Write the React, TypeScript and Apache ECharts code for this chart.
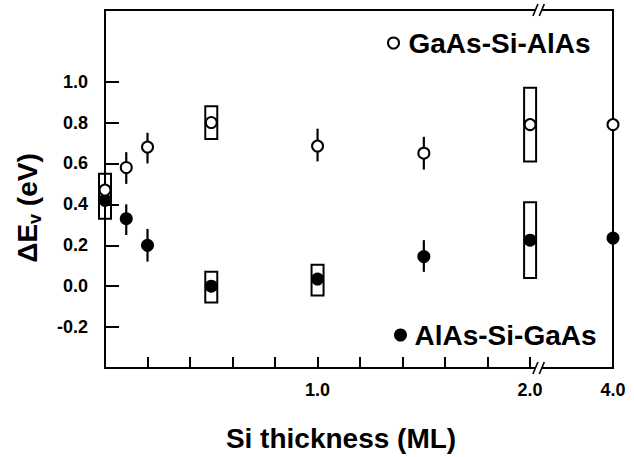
import React, { useEffect, useRef } from "react";
import * as echarts from "echarts";

// ---- data ----
const thickness = [0, 0.1, 0.2, 0.5, 1.0, 1.5, 2.0, 4.0];
const gaAsSiAlAs = [0.47, 0.58, 0.68, 0.8, 0.685, 0.65, 0.79, 0.79];
const alAsSiGaAs = [0.42, 0.33, 0.2, 0.0, 0.035, 0.145, 0.225, 0.235];

const openErrX = [0.1, 0.2, 1.0, 1.5];
const openErrLow = [0.5, 0.6, 0.61, 0.57];
const openErrHigh = [0.655, 0.75, 0.77, 0.73];

const filledErrX = [0.1, 0.2, 1.5];
const filledErrLow = [0.25, 0.12, 0.07];
const filledErrHigh = [0.4, 0.28, 0.225];

const boxX = [0, 0.5, 2.0, 0.5, 1.0, 2.0];
const boxLow = [0.33, 0.72, 0.61, -0.08, -0.045, 0.04];
const boxHigh = [0.55, 0.88, 0.97, 0.07, 0.105, 0.41];

const xMinorTicks = [0.2, 0.4, 0.6, 0.8, 1.0, 1.2, 1.4, 1.6, 1.8, 2.0];
const xTickLabels = [1.0, 2.0, 4.0];
const yTicks = [-0.2, 0, 0.2, 0.4, 0.6, 0.8, 1.0];

// axis position where the broken-axis value 4.0 ML is drawn
const BREAK_POS = 2.39;
const xPos = (t: number) => (t > 2.0 ? BREAK_POS : t);

const FONT = "'Liberation Sans', Arial, Helvetica, sans-serif";

export default function App() {
  const ref = useRef<HTMLDivElement>(null);

  useEffect(() => {
    if (!ref.current) return;
    const chart = echarts.init(ref.current, null, { renderer: "svg" });

    const boxData = boxX.map((x, i) => [xPos(x), boxLow[i], boxHigh[i]]);
    const errData = [
      ...openErrX.map((x, i) => [xPos(x), openErrLow[i], openErrHigh[i]]),
      ...filledErrX.map((x, i) => [xPos(x), filledErrLow[i], filledErrHigh[i]]),
    ];

    const option: any = {
      animation: false,
      backgroundColor: "#fff",
      grid: {
        left: 105,
        right: 21,
        top: 10,
        bottom: 86,
        show: true,
        borderColor: "#000",
        borderWidth: 2,
        containLabel: false,
      },
      legend: [
        {
          data: ["GaAs-Si-AlAs"],
          left: 382,
          top: 24,
          itemWidth: 20,
          itemHeight: 11,
          symbolKeepAspect: true,
          textStyle: { fontSize: 28, fontWeight: "bold", color: "#000", fontFamily: FONT },
        },
        {
          data: ["AlAs-Si-GaAs"],
          left: 389,
          top: 316,
          itemWidth: 18,
          itemHeight: 13,
          symbolKeepAspect: true,
          textStyle: { fontSize: 28, fontWeight: "bold", color: "#000", fontFamily: FONT },
        },
      ],
      xAxis: {
        type: "value",
        min: 0,
        max: BREAK_POS,
        splitLine: { show: false },
        axisLine: { show: true, onZero: false, lineStyle: { color: "#000", width: 2 } },
        axisTick: {
          show: true,
          inside: true,
          length: 11,
          lineStyle: { color: "#000", width: 2 },
          customValues: xMinorTicks,
        },
        axisLabel: {
          customValues: xTickLabels.map(xPos),
          formatter: (v: number) => {
            const idx = xTickLabels.map(xPos).findIndex((p) => Math.abs(p - v) < 1e-6);
            return idx >= 0 ? xTickLabels[idx].toFixed(1) : "";
          },
          margin: 13,
          fontSize: 18,
          fontWeight: "bold",
          color: "#000",
          fontFamily: FONT,
        },
        name: "Si thickness (ML)",
        nameLocation: "middle",
        nameGap: 56,
        nameTextStyle: {
          fontSize: 28,
          fontWeight: "bold",
          color: "#000",
          fontFamily: FONT,
          padding: [0, 36, 0, 0],
        },
      },
      yAxis: {
        type: "value",
        min: -0.4,
        max: 1.35,
        splitLine: { show: false },
        axisLine: { show: true, onZero: false, lineStyle: { color: "#000", width: 2 } },
        axisTick: {
          show: true,
          inside: true,
          length: 14,
          lineStyle: { color: "#000", width: 2 },
          customValues: yTicks,
        },
        axisLabel: {
          customValues: yTicks,
          formatter: (v: number) => v.toFixed(1),
          margin: 17,
          fontSize: 18,
          fontWeight: "bold",
          color: "#000",
          fontFamily: FONT,
        },
      },
      series: [
        {
          type: "custom",
          name: "boxes",
          z: 2,
          silent: true,
          data: boxData,
          encode: { x: 0, y: [1, 2] },
          renderItem: (params: any, api: any) => {
            const x = api.value(0);
            const top = api.coord([x, api.value(2)]);
            const bot = api.coord([x, api.value(1)]);
            return {
              type: "rect",
              shape: { x: top[0] - 6, y: top[1], width: 12, height: bot[1] - top[1] },
              style: { fill: "rgba(0,0,0,0)", stroke: "#000", lineWidth: 2 },
            };
          },
        },
        {
          type: "custom",
          name: "errors",
          z: 2,
          silent: true,
          data: errData,
          encode: { x: 0, y: [1, 2] },
          renderItem: (params: any, api: any) => {
            const x = api.value(0);
            const top = api.coord([x, api.value(2)]);
            const bot = api.coord([x, api.value(1)]);
            return {
              type: "line",
              shape: { x1: top[0], y1: top[1], x2: bot[0], y2: bot[1] },
              style: { stroke: "#000", lineWidth: 2.2 },
            };
          },
        },
        {
          type: "scatter",
          name: "GaAs-Si-AlAs",
          z: 4,
          symbol: "circle",
          symbolSize: 11,
          itemStyle: { color: "#fff", borderColor: "#000", borderWidth: 2, opacity: 1 },
          data: thickness.map((t, i) => [xPos(t), gaAsSiAlAs[i]]),
        },
        {
          type: "scatter",
          name: "AlAs-Si-GaAs",
          z: 3,
          symbol: "circle",
          symbolSize: 13,
          itemStyle: { color: "#000", opacity: 1 },
          data: thickness.map((t, i) => [xPos(t), alAsSiGaAs[i]]),
        },
      ],
    };

    chart.setOption(option);

    // broken-axis marks, placed through the axis scale
    const marks: any[] = [];
    const yBottom = chart.convertToPixel({ gridIndex: 0 }, [0, -0.4])[1];
    const yTop = chart.convertToPixel({ gridIndex: 0 }, [0, 1.35])[1];
    const xa = chart.convertToPixel({ gridIndex: 0 }, [2.025, 0])[0];
    const xb = chart.convertToPixel({ gridIndex: 0 }, [2.055, 0])[0];
    [yBottom, yTop].forEach((yy) => {
      marks.push({
        type: "rect",
        shape: { x: xa, y: yy - 3, width: xb - xa, height: 6 },
        style: { fill: "#fff" },
        z: 100,
      });
      [xa, xb].forEach((xx) => {
        marks.push({
          type: "line",
          shape: { x1: xx - 2.5, y1: yy + 6, x2: xx + 2.5, y2: yy - 6 },
          style: { stroke: "#000", lineWidth: 1.6 },
          z: 101,
        });
      });
    });

    chart.setOption({
      graphic: [
        ...marks,
        {
          type: "text",
          x: 27,
          y: 208,
          rotation: Math.PI / 2,
          z: 100,
          style: {
            text: "{a|ΔE}{s|v}{a| (eV)}",
            align: "center",
            verticalAlign: "middle",
            fill: "#000",
            rich: {
              a: { fontSize: 28, fontWeight: "bold", fontFamily: FONT, lineHeight: 34 },
              s: {
                fontSize: 18,
                fontWeight: "bold",
                fontFamily: FONT,
                lineHeight: 20,
                verticalAlign: "bottom",
              },
            },
          },
        },
      ],
    });

    return () => chart.dispose();
  }, []);

  return <div ref={ref} style={{ width: 634, height: 457, position: "absolute", left: 0, top: 0 }} />;
}
